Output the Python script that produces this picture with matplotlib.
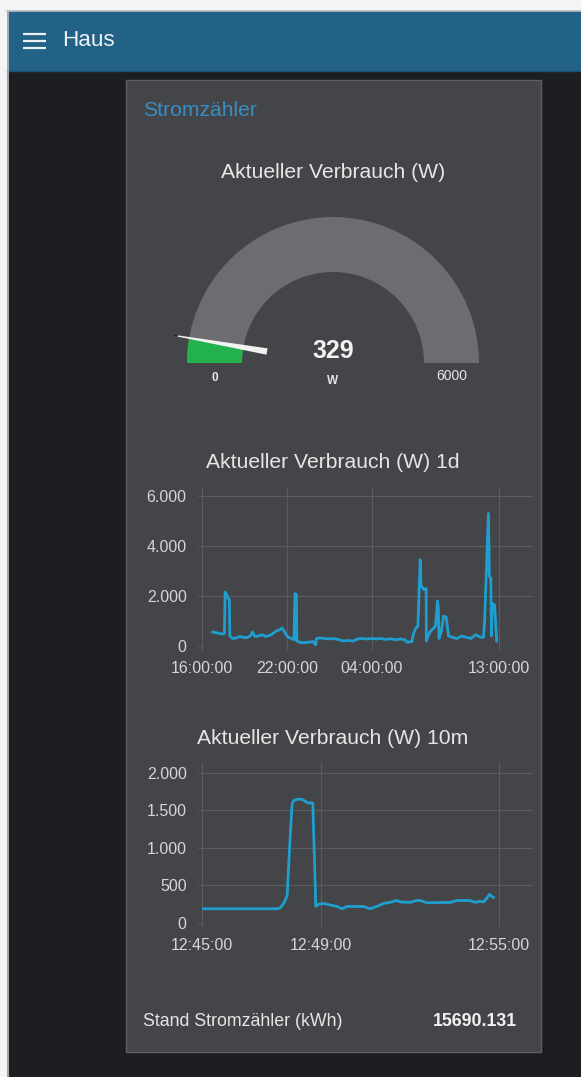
import matplotlib
matplotlib.use("Agg")
import matplotlib.pyplot as plt
import matplotlib.dates as mdates
from matplotlib.patches import Rectangle, Wedge, Polygon
from matplotlib.ticker import FuncFormatter, FixedLocator
import numpy as np
import pandas as pd

plt.rcParams['font.family'] = ['Liberation Sans', 'DejaVu Sans']

# ---------------- data ----------------
header_title = "Haus"
group_title = "Stromzähler"
gauge_title = "Aktueller Verbrauch (W)"
gauge_value = 329
gauge_min = 0
gauge_max = 6000
gauge_unit = "W"

chart1_title = "Aktueller Verbrauch (W) 1d"
day1_times = ["16:45", "16:55", "17:05", "17:15", "17:25", "17:35", "17:38", "17:45", "17:52", "17:56",
              "17:58", "18:10", "18:25", "18:40", "18:55", "19:10", "19:25", "19:34", "19:45", "20:00",
              "20:15", "20:30", "20:45", "20:55", "21:15", "21:30", "21:40", "21:48", "21:55", "22:05",
              "22:20", "22:30", "22:34", "22:40", "22:42", "22:55", "23:10", "23:30", "23:50", "00:02",
              "00:05", "00:20", "00:40", "01:00", "01:20", "01:40", "02:00", "02:20", "02:40", "03:00",
              "03:20", "03:40", "04:00", "04:20", "04:40", "05:00", "05:20", "05:40", "06:00", "06:20",
              "06:30", "06:50", "06:55", "07:05", "07:15", "07:25", "07:28", "07:35", "07:40", "07:50",
              "07:51", "08:00", "08:10", "08:20", "08:30", "08:38", "08:42", "08:45", "08:55", "09:04",
              "09:15", "09:25", "09:40", "10:00", "10:20", "10:40", "11:00", "11:20", "11:40", "11:53",
              "11:58", "12:14", "12:18", "12:24", "12:27", "12:30", "12:40", "12:49"]
day1_values = [560, 540, 520, 500, 480, 500, 2150, 2050, 1900, 1850,
               400, 300, 320, 380, 350, 330, 400, 560, 380, 400,
               450, 380, 420, 460, 600, 650, 720, 600, 480, 350,
               300, 250, 2100, 2050, 200, 150, 130, 150, 180, 50,
               300, 320, 300, 280, 300, 250, 200, 220, 200, 280,
               300, 280, 300, 280, 300, 260, 290, 250, 280, 250,
               150, 180, 450, 700, 800, 3450, 2400, 2350, 2250, 2300,
               200, 450, 600, 700, 800, 1800, 1500, 300, 600, 1200,
               1150, 400, 350, 300, 400, 350, 300, 450, 350, 350,
               1000, 5300, 2800, 2700, 400, 1700, 1650, 200]
chart1_xticks = ["16:00", "22:00", "04:00", "13:00"]
chart1_xlim = ["16:00", "15:23"]
chart1_yticks = [0, 2000, 4000, 6000]
chart1_ytop = 6360

chart2_title = "Aktueller Verbrauch (W) 10m"
min10_times = ["12:45:00", "12:47:32", "12:47:38", "12:47:45", "12:47:52", "12:47:57", "12:48:02", "12:48:05",
               "12:48:12", "12:48:22", "12:48:29", "12:48:35", "12:48:44", "12:48:47", "12:48:50", "12:48:56",
               "12:49:06", "12:49:19", "12:49:33", "12:49:43", "12:49:53", "12:50:26", "12:50:40", "12:50:53",
               "12:51:07", "12:51:20", "12:51:34", "12:51:41", "12:52:01", "12:52:14", "12:52:21", "12:52:35",
               "12:53:22", "12:53:35", "12:54:02", "12:54:12", "12:54:22", "12:54:29", "12:54:32", "12:54:41",
               "12:54:49"]
min10_values = [190, 190, 200, 260, 360, 1000, 1580, 1630,
                1650, 1650, 1620, 1600, 1600, 900, 220, 250,
                260, 240, 220, 190, 220, 220, 190, 220,
                260, 275, 300, 280, 275, 300, 300, 270,
                275, 300, 300, 275, 290, 280, 300, 380,
                340]
chart2_xticks = ["12:45:00", "12:49:00", "12:55:00"]
chart2_xlim = ["12:45:00", "12:56:09"]
chart2_yticks = [0, 500, 1000, 1500, 2000]
chart2_ytop = 2133

footer_label = "Stand Stromzähler (kWh)"
footer_value = "15690.131"

# ---------------- style ----------------
W, H = 581, 1077
C_HEADER = "#236287"
C_BG = "#1c1e21"
C_PANEL = "#434548"
C_PANEL_EDGE = "#5d5f62"
C_GRID = "#5a5c5f"
C_TEXT = "#e6e6e6"
C_TICK = "#d6d6d6"
C_LINE = "#1f9fcf"
C_GAUGE = "#6b6d70"
C_GREEN = "#22b14c"
C_BLUE_TXT = "#3a8dc2"
TITLE_FS = 15.2

fig = plt.figure(figsize=(W / 100, H / 100), dpi=100)
fig.patch.set_facecolor("#f4f4f4")

bg = fig.add_axes([0, 0, 1, 1])
bg.set_xlim(0, W)
bg.set_ylim(H, 0)
bg.axis("off")
bg.set_zorder(0)

# page background and header
bg.add_patch(Rectangle((7, 11), W - 7, H - 11, facecolor=C_BG, edgecolor="none"))
bg.add_patch(Rectangle((7, 11), W - 7, 60, facecolor=C_HEADER, edgecolor="none"))
bg.plot([7, W], [70.5, 70.5], color="#1d5274", lw=1)
bg.plot([7.5, 7.5], [11, H], color="#b9bec2", lw=1.2)
bg.plot([7, W], [11, 11], color="#b9bec2", lw=1.2)
for yy in (34, 41, 48):
    bg.plot([23, 46], [yy, yy], color="#eaf0f4", lw=1.6, solid_capstyle="butt")
bg.text(62, 41, header_title, color="#eef3f6", fontsize=16.2, va="center", ha="left")

# panel
bg.add_patch(Rectangle((126, 80), 415, 972, facecolor=C_PANEL, edgecolor=C_PANEL_EDGE, lw=1))
bg.text(143, 110, group_title, color=C_BLUE_TXT, fontsize=TITLE_FS, va="center", ha="left")

# gauge
bg.text(333, 172, gauge_title, color=C_TEXT, fontsize=TITLE_FS, va="center", ha="center")
gcx, gcy, R, r = 333, 363, 146, 91
bg.add_patch(Wedge((gcx, gcy), R, 180, 360, width=R - r, facecolor=C_GAUGE, edgecolor="none"))
frac = (gauge_value - gauge_min) / (gauge_max - gauge_min)
ang = 180 + frac * 180
bg.add_patch(Wedge((gcx, gcy), R, 180, ang, width=R - r, facecolor=C_GREEN, edgecolor="none"))
th = np.deg2rad(ang)
d = np.array([np.cos(th), np.sin(th)])
nrm = np.array([-d[1], d[0]])
c = np.array([gcx, gcy])
p_tip = c + 158 * d
p_base = c + 67 * d
needle = Polygon([p_tip + 0.6 * nrm, p_base + 3.2 * nrm, p_base - 3.2 * nrm, p_tip - 0.6 * nrm],
                 closed=True, facecolor="#f2f2f2", edgecolor="none")
bg.add_patch(needle)
bg.plot([p_tip[0] - 3, p_tip[0]], [p_tip[1] - 0.5, p_tip[1]], color="#202224", lw=0.8)
bg.text(gcx, 351, f"{gauge_value}", color="#f2f2f2", fontsize=18, fontweight="bold", va="center", ha="center")
bg.text(gcx, 381, gauge_unit, color=C_TEXT, fontsize=8.5, fontweight="bold", va="center", ha="center")
bg.text(215, 378, f"{gauge_min}", color=C_TEXT, fontsize=8.5, fontweight="bold", va="center", ha="center")
bg.text(452, 376, f"{gauge_max}", color=C_TEXT, fontsize=10, va="center", ha="center")

# footer
bg.text(143, 1021, footer_label, color=C_TEXT, fontsize=12.8, va="center", ha="left")
bg.text(517, 1021, footer_value, color="#f2f2f2", fontsize=12.8, fontweight="bold", va="center", ha="right")


def px_axes(x0, y0, x1, y1):
    return fig.add_axes([x0 / W, 1 - y1 / H, (x1 - x0) / W, (y1 - y0) / H])


def de_fmt(v, pos):
    return f"{int(round(v)):,}".replace(",", ".")


def style_axes(ax):
    ax.set_facecolor("none")
    for s in ax.spines.values():
        s.set_visible(False)
    ax.grid(True, color=C_GRID, lw=0.8)
    ax.set_axisbelow(True)
    ax.tick_params(axis="both", colors=C_GRID, labelcolor=C_TICK, labelsize=11.5, length=3, width=0.8)
    ax.tick_params(axis="y", pad=8)
    ax.tick_params(axis="x", pad=8)
    ax.yaxis.set_major_formatter(FuncFormatter(de_fmt))


# chart 1 (1 day)
def day_time(s):
    t = pd.Timestamp(f"2017-01-01 {s}")
    if t.hour < 16:
        t = t + pd.Timedelta(days=1)
    return t

t1 = [day_time(s) for s in day1_times]
ax1 = px_axes(202, 487, 533, 646)
style_axes(ax1)
ax1.plot(t1, day1_values, color=C_LINE, lw=2.0, solid_joinstyle="round")
ax1.set_ylim(0, chart1_ytop)
ax1.set_yticks(chart1_yticks)
ax1.set_xlim(day_time(chart1_xlim[0]), day_time(chart1_xlim[1]))
ax1.xaxis.set_major_locator(FixedLocator(mdates.date2num([day_time(s) for s in chart1_xticks])))
ax1.xaxis.set_major_formatter(mdates.DateFormatter("%H:%M:%S"))
bg.text(333, 462, chart1_title, color=C_TEXT, fontsize=TITLE_FS, va="center", ha="center")

# chart 2 (10 minutes)
t2 = pd.to_datetime(["2017-01-02 " + s for s in min10_times])
ax2 = px_axes(202, 763, 533, 923)
style_axes(ax2)
ax2.plot(t2, min10_values, color=C_LINE, lw=2.0, solid_joinstyle="round")
ax2.set_ylim(0, chart2_ytop)
ax2.set_yticks(chart2_yticks)
ax2.set_xlim(pd.Timestamp("2017-01-02 " + chart2_xlim[0]), pd.Timestamp("2017-01-02 " + chart2_xlim[1]))
ax2.xaxis.set_major_locator(FixedLocator(mdates.date2num(pd.to_datetime(["2017-01-02 " + s for s in chart2_xticks]))))
ax2.xaxis.set_major_formatter(mdates.DateFormatter("%H:%M:%S"))
bg.text(333, 739, chart2_title, color=C_TEXT, fontsize=TITLE_FS, va="center", ha="center")

fig.savefig("out.png", dpi=100, facecolor=fig.get_facecolor())
